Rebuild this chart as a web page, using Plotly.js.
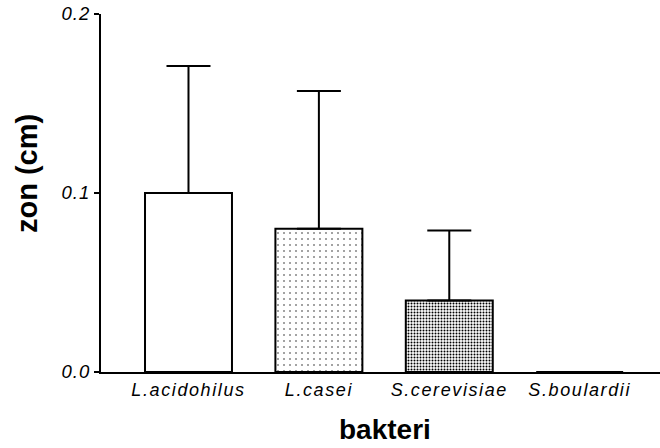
<!DOCTYPE html>
<html>
<head>
<meta charset="utf-8">
<script src="https://cdn.plot.ly/plotly-3.0.1.min.js"></script>
<style>
  html, body { margin: 0; padding: 0; background: #fff; }
  #chart { width: 660px; height: 448px; }
  /* loose tracking on the tick labels */
  #chart .xtick text { letter-spacing: 1.6px; }
  #chart .ytick text { letter-spacing: 1px; }
</style>
</head>
<body>
<div id="chart"></div>
<script>
// Inhibition zone per strain (mean with upper error)
const categories = ['L.acidohilus', 'L.casei', 'S.cerevisiae', 'S.boulardii'];
const zoneMean = [0.100, 0.080, 0.040, 0.0];
const zoneErr = [0.071, 0.077, 0.039, 0.0];
const yTicks = [0.0, 0.1, 0.2];
const xTitle = 'bakteri';
const yTitle = 'zon (cm)';

const font = 'Arial, "Liberation Sans", sans-serif';

const trace = {
  type: 'bar',
  x: categories,
  y: zoneMean,
  marker: {
    color: '#ffffff',
    line: { color: '#000000', width: 2 },
    pattern: {
      shape: ['', '.', '.', ''],
      size: [5, 6, 3, 5],
      solidity: [0.1, 0.04, 0.35, 0.1],
      fgcolor: '#000000',
      bgcolor: '#ffffff',
      fillmode: 'replace'
    }
  },
  error_y: {
    type: 'data',
    symmetric: false,
    array: zoneErr,
    arrayminus: zoneErr.map(() => 0),
    color: '#000000',
    thickness: 2,
    width: 22
  },
  hoverinfo: 'skip'
};

const layout = {
  width: 660,
  height: 448,
  margin: { l: 101, r: 0, t: 14, b: 76 },
  paper_bgcolor: '#ffffff',
  plot_bgcolor: '#ffffff',
  showlegend: false,
  bargap: 0.333,
  font: { family: font, color: '#000000' },
  xaxis: {
    range: [-0.671, 3.616],
    showline: true,
    linecolor: '#000000',
    linewidth: 2,
    ticks: '',
    showgrid: false,
    zeroline: false,
    tickfont: { family: font, size: 18, style: 'italic', color: '#000000' }
  },
  yaxis: {
    range: [0, 0.2],
    tickvals: yTicks,
    ticktext: yTicks.map(v => v.toFixed(1)),
    showline: true,
    linecolor: '#000000',
    linewidth: 2,
    ticks: 'outside',
    ticklen: 5,
    tickwidth: 2,
    tickcolor: '#000000',
    showgrid: false,
    zeroline: false,
    tickfont: { family: font, size: 18.5, style: 'italic', color: '#000000' }
  },
  annotations: [
    {
      text: '<b>' + xTitle + '</b>',
      xref: 'paper', yref: 'paper', x: 0.508, y: 0,
      xanchor: 'center', yanchor: 'middle', yshift: -57,
      showarrow: false,
      font: { family: font, size: 28, color: '#000000' }
    },
    {
      text: '<b>' + yTitle + '</b>',
      xref: 'paper', yref: 'paper', x: 0, y: 0.553,
      xanchor: 'center', yanchor: 'middle', xshift: -74,
      textangle: -90,
      showarrow: false,
      font: { family: font, size: 29, color: '#000000' }
    }
  ]
};

Plotly.newPlot('chart', [trace], layout, { staticPlot: true, displayModeBar: false });
</script>
</body>
</html>
